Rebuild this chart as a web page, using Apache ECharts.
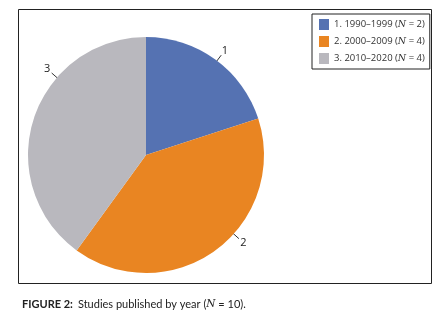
<!DOCTYPE html>
<html>
<head>
<meta charset="utf-8">
<script src="https://cdn.jsdelivr.net/npm/echarts@6/dist/echarts.min.js"></script>
<style>
  html, body { margin: 0; padding: 0; background: #fff; }
  #chart { width: 446px; height: 310px; }
</style>
</head>
<body>
<div id="chart"></div>
<script>
// data
var categories = ['1990–1999', '2000–2009', '2010–2020'];
var counts = [2, 4, 4];
var sliceLabels = ['1', '2', '3'];
var colors = ['#5572B2', '#E98522', '#B9B8BE'];
// where the slice number sits (angle in degrees, like the original figure)
var labelAngles = [53, -42, 139];

var chart = echarts.init(document.getElementById('chart'));

var cx = 146, cy = 155, r = 118;

var pieData = categories.map(function (c, i) {
  return { name: c, value: counts[i], label: { formatter: sliceLabels[i] } };
});

var option = {
  animation: false,
  color: colors,
  graphic: [
    {
      type: 'rect',
      shape: { x: 18.5, y: 9.5, width: 413, height: 274 },
      style: { fill: 'none', stroke: '#222', lineWidth: 1 }
    }
  ],
  title: {
    left: 17,
    top: 290,
    text: '{b|FIGURE 2:} {a|Studies published by year (}{i|N}{a| = 10).}',
    textStyle: {
      fontWeight: 'normal',
      rich: {
        b: { fontFamily: 'Lato', fontSize: 11, fontWeight: 'bold', color: '#222' },
        a: { fontFamily: 'Lato', fontSize: 11, fontWeight: 'normal', color: '#222' },
        i: { fontFamily: 'DejaVu Serif', fontSize: 10.5, fontStyle: 'italic', fontWeight: 'normal', color: '#222' }
      }
    }
  },
  legend: {
    orient: 'vertical',
    left: 312,
    top: 14,
    width: 115,
    padding: [5, 5, 5, 7],
    borderColor: '#222',
    borderWidth: 1,
    itemWidth: 10,
    itemHeight: 11,
    itemGap: 6,
    icon: 'rect',
    formatter: function (name) {
      var i = categories.indexOf(name);
      return '{a|' + (i + 1) + '. ' + name + ' (}{i|N}{a| = ' + counts[i] + ')}';
    },
    textStyle: {
      rich: {
        a: { fontFamily: 'Open Sans', fontSize: 9.5, color: '#333' },
        i: { fontFamily: 'DejaVu Serif', fontSize: 9.5, fontStyle: 'italic', color: '#333' }
      }
    }
  },
  series: [
    {
      type: 'pie',
      center: [cx, cy],
      radius: r,
      startAngle: 90,
      clockwise: true,
      data: pieData,
      label: {
        show: true,
        position: 'outside',
        color: '#222',
        fontSize: 11,
        fontFamily: 'Open Sans'
      },
      labelLine: {
        show: true,
        length: 6,
        length2: 0,
        lineStyle: { color: '#333', width: 1 }
      },
      labelLayout: function (p) {
        var a = labelAngles[p.dataIndex] * Math.PI / 180;
        var d = r + 13;
        var x = cx + Math.cos(a) * d;
        var y = cy - Math.sin(a) * d;
        var x0 = cx + Math.cos(a) * (r - 1);
        var y0 = cy - Math.sin(a) * (r - 1);
        var x1 = cx + Math.cos(a) * (r + 7);
        var y1 = cy - Math.sin(a) * (r + 7);
        return {
          x: x,
          y: y,
          align: 'center',
          verticalAlign: 'middle',
          labelLinePoints: [[x0, y0], [x1, y1], [x1, y1]]
        };
      },
      itemStyle: { borderWidth: 0 },
      emphasis: { disabled: true }
    }
  ]
};

chart.setOption(option);
</script>
</body>
</html>
